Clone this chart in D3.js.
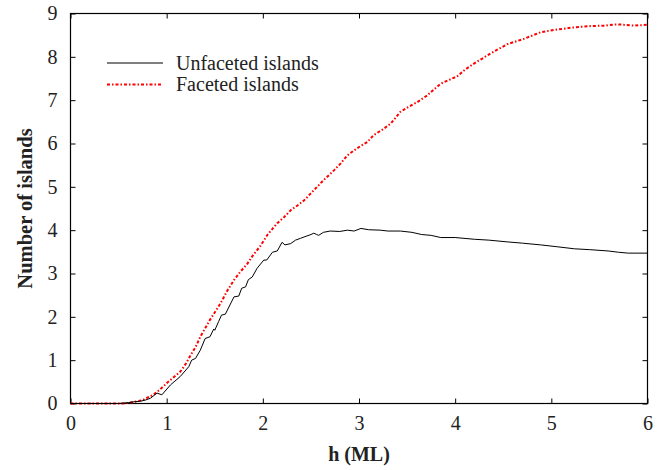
<!DOCTYPE html>
<html><head><meta charset="utf-8">
<script src="https://cdn.jsdelivr.net/npm/d3@7"></script>
<style>body{margin:0;background:#fff}svg{display:block}</style>
</head><body>
<svg id="chart" width="667" height="470"></svg>
<script>
const xTicks = [0,1,2,3,4,5,6];
const yTicks = [0,1,2,3,4,5,6,7,8,9];
const seriesNames = ["Unfaceted islands","Faceted islands"];
const unfacetedH = [0,0.5,0.6,0.66,0.72,0.78,0.83,0.90,0.95,1.04,1.14,1.23,1.26,1.30,1.35,1.40,1.45,1.49,1.50,1.54,1.57,1.61,1.70,1.75,1.78,1.82,1.85,1.89,1.94,2.01,2.04,2.10,2.15,2.20,2.23,2.29,2.34,2.39,2.45,2.49,2.53,2.56,2.58,2.63,2.7,2.8,2.88,2.95,3.02,3.1,3.22,3.3,3.43,3.55,3.65,3.75,3.85,4.0,4.2,4.35,4.54,4.7,4.89,5.05,5.24,5.4,5.59,5.7,5.8,6.0];
const unfacetedV = [0,0,0.02,0.04,0.05,0.08,0.12,0.24,0.20,0.43,0.62,0.85,1.0,1.04,1.23,1.50,1.54,1.72,1.69,1.89,2.04,2.06,2.46,2.48,2.66,2.69,2.86,2.92,3.12,3.31,3.31,3.49,3.52,3.72,3.66,3.69,3.77,3.81,3.86,3.89,3.93,3.90,3.88,3.95,3.98,3.97,4.0,3.98,4.04,4.01,4.0,3.98,3.98,3.95,3.9,3.88,3.83,3.83,3.79,3.77,3.73,3.7,3.66,3.62,3.57,3.55,3.52,3.49,3.47,3.47];
const facetedH = [0,0.55,0.65,0.75,0.86,0.93,1.0,1.07,1.14,1.2,1.24,1.3,1.35,1.45,1.56,1.63,1.7,1.77,1.84,1.9,1.97,2.05,2.15,2.22,2.29,2.36,2.43,2.53,2.63,2.74,2.81,2.88,2.98,3.09,3.15,3.25,3.33,3.43,3.52,3.61,3.71,3.78,3.85,4.02,4.1,4.2,4.37,4.54,4.72,4.89,5.06,5.24,5.41,5.55,5.69,5.86,6.0];
const facetedV = [0,0,0.03,0.08,0.2,0.32,0.47,0.6,0.73,0.92,1.08,1.3,1.54,1.93,2.31,2.6,2.85,3.05,3.23,3.43,3.62,3.9,4.16,4.3,4.46,4.57,4.69,4.92,5.15,5.38,5.54,5.73,5.89,6.04,6.19,6.33,6.46,6.73,6.85,6.96,7.11,7.25,7.38,7.55,7.7,7.85,8.08,8.29,8.42,8.57,8.63,8.68,8.71,8.72,8.75,8.72,8.74];

const svg = d3.select("#chart");
const L = 70.5, R = 647.5, T = 13.5, B = 403.5;
const x = d3.scaleLinear().domain([0,6]).range([L,R]);
const y = d3.scaleLinear().domain([0,9]).range([B,T]);
const font = "'Liberation Serif','Times New Roman',serif";
const fs = 20;

function styleAxis(g){
  g.select(".domain").remove();
  g.selectAll(".tick line").attr("stroke","#000").attr("stroke-width",1);
  g.selectAll("text").attr("font-family",font).attr("font-size",fs).attr("fill","#222");
}
svg.append("g").attr("transform",`translate(0,${B})`)
  .call(d3.axisBottom(x).tickValues(xTicks).tickFormat(d3.format("d")).tickSize(-5).tickPadding(12))
  .call(styleAxis);
svg.append("g").attr("transform",`translate(0,${T})`)
  .call(d3.axisTop(x).tickValues(xTicks).tickFormat("").tickSize(-5))
  .call(styleAxis);
svg.append("g").attr("transform",`translate(${L},0)`)
  .call(d3.axisLeft(y).tickValues(yTicks).tickFormat(d3.format("d")).tickSize(-5).tickPadding(13))
  .call(styleAxis);
svg.append("g").attr("transform",`translate(${R},0)`)
  .call(d3.axisRight(y).tickValues(yTicks).tickFormat("").tickSize(-5))
  .call(styleAxis);

svg.append("rect").attr("x",L).attr("y",T).attr("width",R-L).attr("height",B-T)
  .attr("fill","none").attr("stroke","#000").attr("stroke-width",1.2);

const line = d3.line().x(d=>x(d[0])).y(d=>y(d[1]));
const unf = unfacetedH.map((h,i)=>[h,unfacetedV[i]]);
const fac = facetedH.map((h,i)=>[h,facetedV[i]]);

svg.append("path").datum(fac).attr("d",line).attr("fill","none")
  .attr("stroke","#f00").attr("stroke-width",2).attr("stroke-dasharray","3,2,1.5,2");
svg.append("path").datum(unf).attr("d",line).attr("fill","none")
  .attr("stroke","#000").attr("stroke-width",1);

// legend
const leg = svg.append("g");
leg.append("line").attr("x1",107).attr("x2",163).attr("y1",63).attr("y2",63).attr("stroke","#000").attr("stroke-width",1);
leg.append("line").attr("x1",107).attr("x2",163).attr("y1",84.5).attr("y2",84.5).attr("stroke","#f00").attr("stroke-width",2).attr("stroke-dasharray","3,2,1.5,2");
leg.append("text").attr("x",176).attr("y",69.5).text(seriesNames[0]).attr("font-family",font).attr("font-size",fs).attr("fill","#222");
leg.append("text").attr("x",176).attr("y",91).text(seriesNames[1]).attr("font-family",font).attr("font-size",fs).attr("fill","#222");

svg.append("text").attr("x",(L+R)/2).attr("y",461).attr("text-anchor","middle")
  .attr("font-family",font).attr("font-size",fs).attr("font-weight","bold").attr("fill","#222").text("h (ML)");
svg.append("text").attr("transform",`translate(32,${(T+B)/2}) rotate(-90)`).attr("text-anchor","middle")
  .attr("font-family",font).attr("font-size",20.5).attr("font-weight","bold").attr("fill","#222").text("Number of islands");
</script>
</body></html>
